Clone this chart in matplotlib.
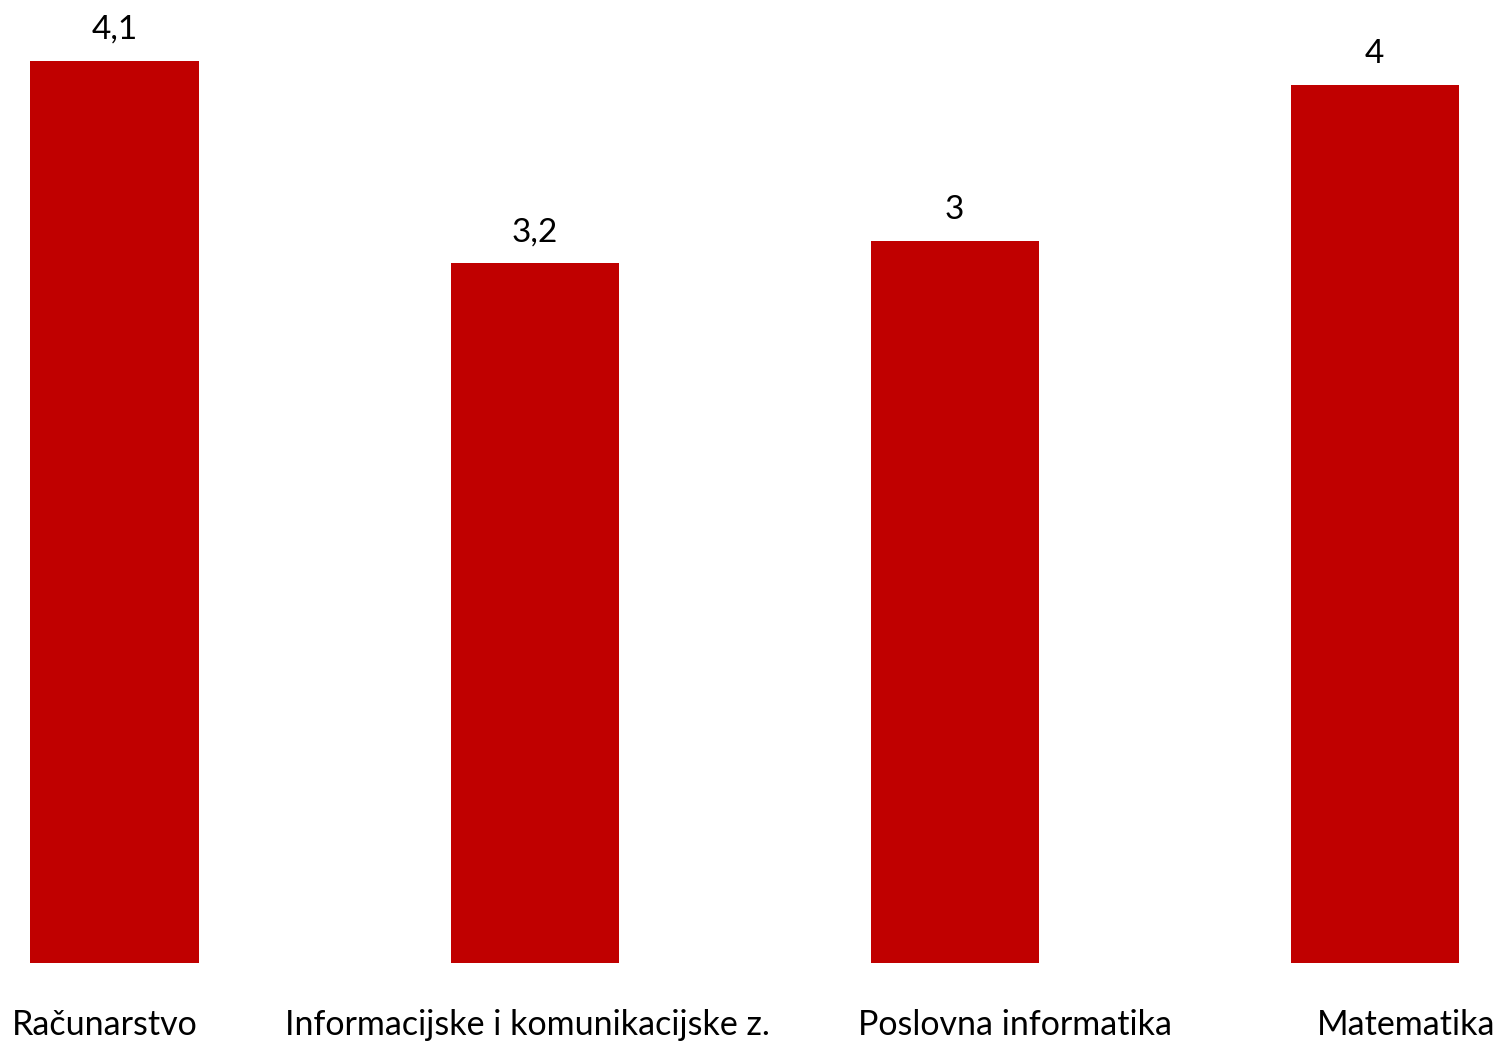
import matplotlib.pyplot as plt
import matplotlib.transforms as mtransforms

categories = ["Računarstvo", "Informacijske i komunikacijske z.",
              "Poslovna informatika", "Matematika"]
values = [4.1, 3.18, 3.28, 3.99]
value_labels = ["4,1", "3,2", "3", "4"]

plt.rcParams['font.family'] = ['Lato', 'DejaVu Sans']

fig = plt.figure(figsize=(15.02, 10.43), dpi=100)
ax = fig.add_axes([0, 80 / 1043, 1, 963 / 1043])

x = range(len(categories))
bars = ax.bar(x, values, width=0.4, color='#C00000')

ax.set_xlim(-114.5 / 420, (1502 - 114.5) / 420)
ax.set_ylim(0, 963 / 220)

for b, lab in zip(bars, value_labels):
    ax.annotate(lab, (b.get_x() + b.get_width() / 2, b.get_height()),
                xytext=(0, 22), textcoords='offset pixels',
                ha='center', va='baseline', fontsize=24, color='black')

ax.set_xticks(list(x))
ax.set_xticklabels(categories, fontsize=24.5)
ax.tick_params(axis='x', length=0, pad=33)
ax.set_yticks([])
for s in ax.spines.values():
    s.set_visible(False)

# nudge tick labels like the original layout
shifts = [-10, -7, 60, 32]
for lbl, dx in zip(ax.get_xticklabels(), shifts):
    lbl.set_transform(lbl.get_transform() + mtransforms.ScaledTranslation(dx / 100, 0, fig.dpi_scale_trans))

fig.savefig('out.png', dpi=100)
